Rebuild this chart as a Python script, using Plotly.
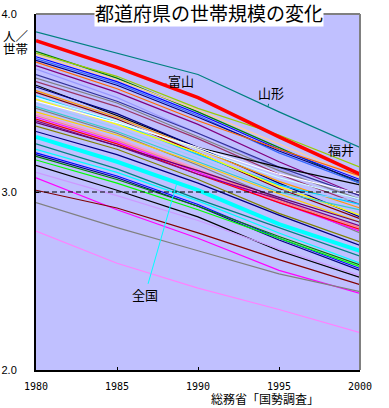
import plotly.graph_objects as go

years = [1980, 1985, 1990, 1995, 2000]

# 人/世帯 by prefecture
yamagata = [3.90, 3.78, 3.66, 3.45, 3.25]
toyama = [3.85, 3.70, 3.53, 3.31, 3.10]
fukui = [3.78, 3.65, 3.47, 3.32, 3.14]
zenkoku = [3.31, 3.17, 3.01, 2.82, 2.67]
tokyo = [2.78, 2.60, 2.46, 2.34, 2.21]

p04 = [3.79, 3.64, 3.45, 3.25, 3.05]
p05 = [3.77, 3.63, 3.46, 3.27, 3.08]
p06 = [3.76, 3.62, 3.44, 3.24, 3.07]
p07 = [3.75, 3.61, 3.43, 3.22, 3.05]
p08 = [3.74, 3.60, 3.42, 3.23, 3.06]
p09 = [3.73, 3.58, 3.40, 3.24, 3.09]
p10 = [3.71, 3.56, 3.38, 3.17, 2.98]
p11 = [3.69, 3.53, 3.33, 3.13, 2.95]
p43 = [3.66, 3.51, 3.33, 3.14, 2.98]
p12 = [3.64, 3.50, 3.31, 3.12, 2.96]
p13 = [3.62, 3.48, 3.30, 3.10, 2.93]
p14 = [3.60, 3.43, 3.25, 3.14, 3.04]
p15 = [3.59, 3.44, 3.25, 3.05, 2.86]
p16 = [3.57, 3.42, 3.24, 3.06, 2.91]
p17 = [3.56, 3.41, 3.22, 3.02, 2.85]
p18 = [3.54, 3.39, 3.21, 3.04, 2.93]
p45 = [3.53, 3.40, 3.24, 3.08, 2.96]
p19 = [3.52, 3.38, 3.22, 3.03, 2.87]
p20 = [3.51, 3.39, 3.25, 3.10, 2.99]
p21 = [3.50, 3.36, 3.19, 3.01, 2.95]
p42 = [3.48, 3.34, 3.17, 3.00, 2.90]
p22 = [3.47, 3.33, 3.15, 2.96, 2.77]
p23 = [3.45, 3.32, 3.16, 2.99, 2.83]
p40 = [3.44, 3.30, 3.13, 2.95, 2.80]
p44 = [3.43, 3.29, 3.12, 2.95, 2.80]
p24 = [3.42, 3.28, 3.11, 2.94, 2.78]
p25 = [3.41, 3.27, 3.10, 2.94, 2.79]
p26 = [3.40, 3.26, 3.10, 2.96, 2.81]
p41 = [3.39, 3.26, 3.12, 2.97, 2.83]
p27 = [3.37, 3.24, 3.07, 2.88, 2.72]
p28 = [3.34, 3.21, 3.05, 2.87, 2.70]
p29 = [3.27, 3.13, 2.96, 2.80, 2.64]
p30 = [3.24, 3.11, 2.95, 2.77, 2.60]
p31 = [3.22, 3.09, 2.93, 2.74, 2.57]
p32 = [3.21, 3.08, 2.92, 2.73, 2.56]
p33 = [3.20, 3.07, 2.92, 2.75, 2.59]
p34 = [3.18, 3.05, 2.90, 2.74, 2.58]
p35 = [3.15, 3.01, 2.86, 2.67, 2.52]
p36 = [3.11, 2.98, 2.84, 2.68, 2.53]
p37 = [3.08, 2.90, 2.74, 2.56, 2.43]
p38 = [3.01, 2.91, 2.77, 2.62, 2.48]
p39 = [2.94, 2.80, 2.67, 2.54, 2.44]

thin_series = [
    (p04, "#008000"), (p05, "#FFCC99"), (p06, "#0000FF"), (p07, "#3366FF"),
    (p08, "#000080"), (p09, "#FF6600"), (p10, "#800080"), (p11, "#9999FF"),
    (p43, "#333399"), (p12, "#808080"), (p13, "#993366"), (p14, "#000000"),
    (p15, "#000080"), (p16, "#FF9900"), (p17, "#800000"), (p18, "#00CCFF"),
    (p45, "#CCFFFF"), (p19, "#FFFF00"), (p20, "#FFFFFF"), (p21, "#99CCFF"),
    (p42, "#33CCCC"), (p22, "#808080"), (p23, "#FFCC00"), (p40, "#FF99CC"),
    (p44, "#FF8080"), (p24, "#FF00FF"), (p25, "#FF0000"), (p26, "#800080"),
    (p41, "#660066"), (p27, "#808000"), (p28, "#000080"), (p29, "#008080"),
    (p30, "#00FFFF"), (p31, "#0000FF"), (p32, "#000080"), (p33, "#008000"),
    (p34, "#00FF00"), (p35, "#000000"), (p36, "#CC99FF"), (p37, "#FF00FF"),
    (p38, "#800000"), (p39, "#808080"), (tokyo, "#FF80FF"),
    (yamagata, "#008080"), (fukui, "#99CC00"),
]

fig = go.Figure()
for vals, col in thin_series:
    fig.add_trace(go.Scatter(x=years, y=vals, mode="lines",
                             line=dict(color=col, width=1.2), hoverinfo="skip"))
fig.add_trace(go.Scatter(x=years, y=zenkoku, mode="lines", name="全国",
                         line=dict(color="#00FFFF", width=4)))
fig.add_trace(go.Scatter(x=years, y=toyama, mode="lines", name="富山",
                         line=dict(color="#FF0000", width=3.5)))


def interp(vals, yr):
    for i in range(len(years) - 1):
        if years[i] <= yr <= years[i + 1]:
            t = (yr - years[i]) / (years[i + 1] - years[i])
            return vals[i] + t * (vals[i + 1] - vals[i])
    return vals[-1]


jp = "Noto Sans CJK JP"
annots = [
    dict(x=1987.84, y=interp(toyama, 1987.84), text="富山", ax=18, ay=-4,
         arrowcolor="#FF0000"),
    dict(x=1994.32, y=interp(yamagata, 1994.32), text="山形", ax=3, ay=-14,
         arrowcolor="#008080"),
    dict(x=1998.77, y=interp(fukui, 1998.77), text="福井", ax=1, ay=-10,
         arrowcolor="#99CC00"),
    dict(x=1988.7, y=interp(zenkoku, 1988.7), text="全国", ax=-32, ay=112,
         arrowcolor="#00FFFF"),
]
ann_list = []
for a in annots:
    ann_list.append(dict(xref="x", yref="y", showarrow=True, arrowhead=0,
                         arrowwidth=1, font=dict(family=jp, size=13, color="black"),
                         **a))

ann_list += [
    dict(xref="paper", yref="paper", x=0.534, y=1.003, text="都道府県の世帯規模の変化",
         showarrow=False, font=dict(family=jp, size=19, color="black"),
         bgcolor="white", xanchor="center", yanchor="middle", borderpad=0),
    dict(xref="paper", yref="paper", x=-0.062, y=0.939, text="人／",
         showarrow=False, font=dict(family=jp, size=12.5, color="black"),
         xanchor="center", yanchor="middle", borderpad=0),
    dict(xref="paper", yref="paper", x=-0.062, y=0.902, text="世帯",
         showarrow=False, font=dict(family=jp, size=12.5, color="black"),
         xanchor="center", yanchor="middle", borderpad=0),
    dict(xref="paper", yref="paper", x=0.707, y=-0.081, text="総務省「国勢調査」",
         showarrow=False, font=dict(family=jp, size=12, color="black"),
         xanchor="center", yanchor="middle", borderpad=0),
]

fig.update_layout(
    width=389, height=408,
    margin=dict(l=36, r=29, t=14, b=38),
    paper_bgcolor="white", plot_bgcolor="#C0C0FF",
    showlegend=False,
    annotations=ann_list,
    shapes=[
        dict(type="line", xref="paper", yref="y", x0=0, x1=1, y0=3.0, y1=3.0,
             line=dict(color="black", width=1, dash="5px,3px"), layer="above"),
        dict(type="line", xref="paper", yref="paper", x0=0, x1=1, y0=1, y1=1,
             line=dict(color="#808080", width=2)),
        dict(type="line", xref="paper", yref="paper", x0=1, x1=1, y0=0, y1=1,
             line=dict(color="#808080", width=2)),
    ],
    xaxis=dict(range=[1980, 2000], tickvals=[1980, 1985, 1990, 1995, 2000],
               ticktext=["1980", "1985", "1990", "1995", "2000"],
               showgrid=False, zeroline=False, showline=True, linecolor="black",
               linewidth=2, ticks="inside", ticklen=3, tickcolor="black",
               tickfont=dict(family="DejaVu Sans Mono", size=10, color="black"),
               ticklabelstandoff=6, automargin=False),
    yaxis=dict(range=[2, 4], tickvals=[2, 3, 4], ticktext=["2.0", "3.0", "4.0"],
               showgrid=False, zeroline=False, showline=True, linecolor="black",
               linewidth=2, ticks="inside", ticklen=3, tickcolor="black",
               tickfont=dict(family="Liberation Sans", size=11, color="black"),
               ticklabelstandoff=15, automargin=False),
)

fig.write_html("out.html", config={"displayModeBar": False},
               post_script="document.body.style.margin='0';document.body.style.padding='0';")
